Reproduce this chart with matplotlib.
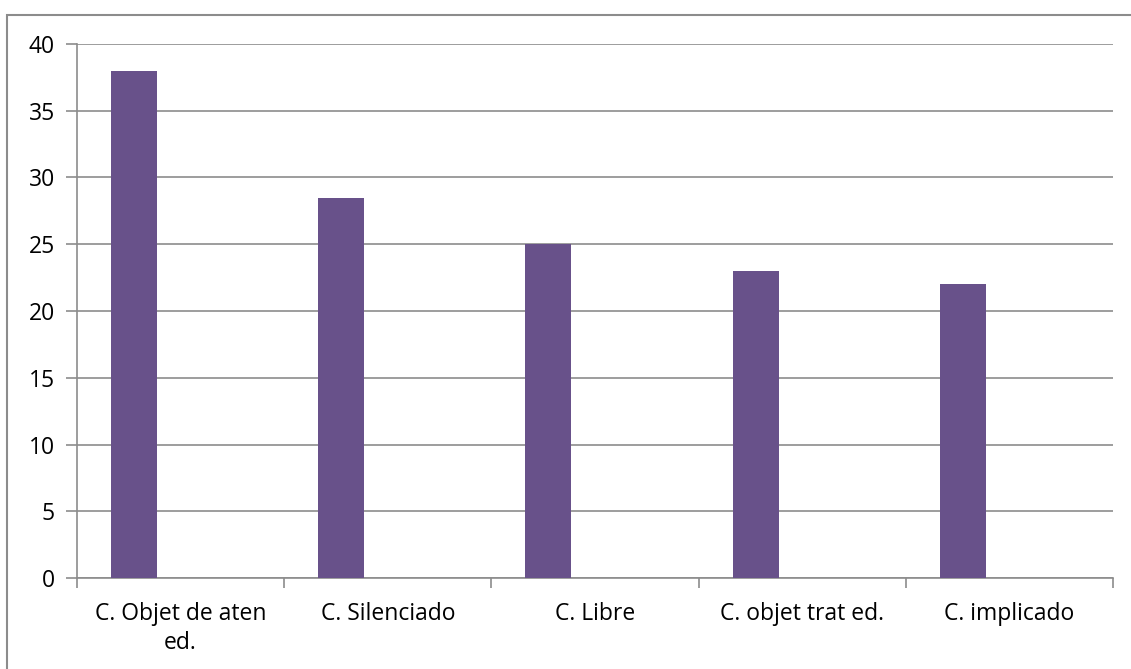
import matplotlib
matplotlib.use("Agg")
import matplotlib.pyplot as plt
from matplotlib.patches import Rectangle
import numpy as np

# ── 数据 ──
categories = ["C. Objet de aten\ned.", "C. Silenciado", "C. Libre",
              "C. objet trat ed.", "C. implicado"]
values = [38, 28.5, 25, 23, 22]

BAR_COLOR = "#68518A"
GRID_COLOR = "#8C8C8C"

plt.rcParams.update({
    "font.family": ["Open Sans", "DejaVu Sans"],
    "font.size": 16.5,
})

fig = plt.figure(figsize=(11.31, 6.69), dpi=100)
ax = fig.add_axes([77 / 1131, 91 / 669, (1113 - 77) / 1131, (578 - 44) / 669])

# 外框（右、下超出画面）
fig.patches.append(Rectangle((7 / 1131, -0.2), 1.5, 1.2 - 15 / 669,
                             transform=fig.transFigure, fill=False,
                             edgecolor=GRID_COLOR, linewidth=1.5, clip_on=False))

x = np.arange(len(categories))
ax.bar(x - 0.225, values, width=0.222, color=BAR_COLOR, zorder=3)

ax.set_xlim(-0.5, len(categories) - 0.5)
ax.set_ylim(0, 40)
ax.set_yticks(range(0, 41, 5))
ax.yaxis.grid(True, color=GRID_COLOR, linewidth=1.2, zorder=0)
ax.set_axisbelow(True)

# x 轴：分类标签居中，刻度在分类边界
ax.set_xticks(np.arange(-0.5, len(categories), 1.0))
ax.set_xticklabels([])
ax.set_xticks(x, minor=True)
ax.set_xticklabels(categories, minor=True, linespacing=1.3)
ax.tick_params(axis="x", which="minor", length=0, pad=17)
ax.tick_params(axis="x", which="major", length=7, width=1.2, color=GRID_COLOR,
               direction="out")
ax.tick_params(axis="y", length=8, width=1.2, color=GRID_COLOR, pad=8)

for side in ["top", "right"]:
    ax.spines[side].set_visible(False)
for side in ["left", "bottom"]:
    ax.spines[side].set_color(GRID_COLOR)
    ax.spines[side].set_linewidth(1.2)

fig.savefig("out.png", dpi=100)
